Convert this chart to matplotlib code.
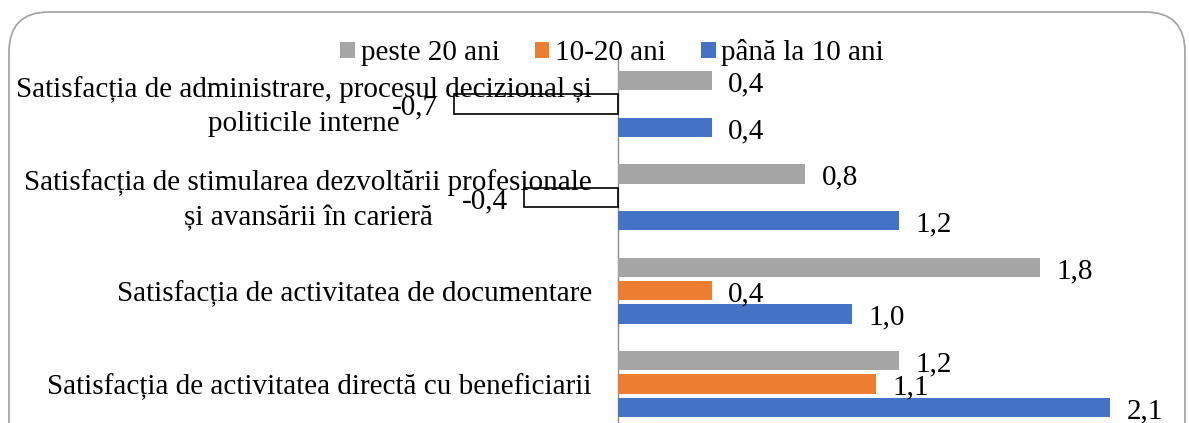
import matplotlib.pyplot as plt
from matplotlib.patches import Patch, FancyBboxPatch

plt.rcParams['font.family'] = ['Liberation Serif', 'DejaVu Serif']

# Categories listed top to bottom
categories = [
    "Satisfacția de administrare, procesul decizional și\npoliticile interne",
    "Satisfacția de stimularea dezvoltării profesionale\nși avansării în carieră",
    "Satisfacția de activitatea de documentare",
    "Satisfacția de activitatea directă cu beneficiarii",
]
series_names = ["peste 20 ani", "10-20 ani", "până la 10 ani"]
peste_20 = [0.4, 0.8, 1.8, 1.2]
ani_10_20 = [-0.7, -0.4, 0.4, 1.1]
pana_la_10 = [0.4, 1.2, 1.0, 2.1]

colors = ["#A5A5A5", "#ED7D31", "#4472C4"]
fs = 21

fig = plt.figure(figsize=(11.89, 4.23), dpi=100)
ax = fig.add_axes([0, -0.0182, 1, 0.8827])

n = len(categories)
ypos = [n - 1 - i for i in range(n)]
offsets = [0.25, 0.0, -0.25]
bar_h = 0.21

for values, off, col in zip([peste_20, ani_10_20, pana_la_10], offsets, colors):
    for y, v in zip(ypos, values):
        if v < 0:
            # negative values: outline only
            ax.barh(y + off, v, height=bar_h, facecolor='none',
                    edgecolor='black', linewidth=1.2, zorder=3)
        else:
            ax.barh(y + off, v, height=bar_h, color=col, zorder=3)
        txt = f"{v:.1f}".replace('.', ',')
        gap = 0.07
        if v < 0:
            ax.text(v - gap, y + off - 0.04, txt, ha='right', va='center',
                    fontsize=fs, zorder=4)
        else:
            ax.text(v + gap, y + off - 0.04, txt, ha='left', va='center',
                    fontsize=fs, zorder=4)

# data range so that 0 lands at x=618 px and 2.1 at x=1110 px
ppu = (1110 - 618) / 2.1
ax.set_xlim(-618 / ppu, (1189 - 618) / ppu)
ax.set_ylim(-0.5, n - 0.5)

# category labels, right-aligned just left of the axis line
ax.set_yticks([])
ax.set_xticks([])
for y, lab in zip(ypos, categories):
    ax.text(-26 / ppu, y - 0.03, lab, ha='right', va='center',
            multialignment='center', linespacing=1.42, fontsize=fs, zorder=2)

for s in ['top', 'right', 'bottom']:
    ax.spines[s].set_visible(False)
ax.spines['left'].set_position(('data', 0))
ax.spines['left'].set_color('#8c8c8c')
ax.spines['left'].set_linewidth(1.0)
ax.patch.set_visible(False)

handles = [Patch(facecolor=c, edgecolor='none') for c in colors]
fig.legend(handles, series_names, loc='center', bbox_to_anchor=(0.515, 0.875),
           ncol=3, frameon=False,
           prop={'family': ['Liberation Serif'], 'size': fs},
           handlelength=0.5, handleheight=0.5, handletextpad=0.2,
           columnspacing=1.2)

# rounded outer frame
frame = FancyBboxPatch((0.09, -0.5), 11.76, 4.61,
                       boxstyle="round,pad=0,rounding_size=0.4",
                       transform=fig.dpi_scale_trans, facecolor='none',
                       edgecolor='#a6a6a6', linewidth=1.3, zorder=0)
fig.patches.append(frame)

fig.savefig("out.png", dpi=100)
